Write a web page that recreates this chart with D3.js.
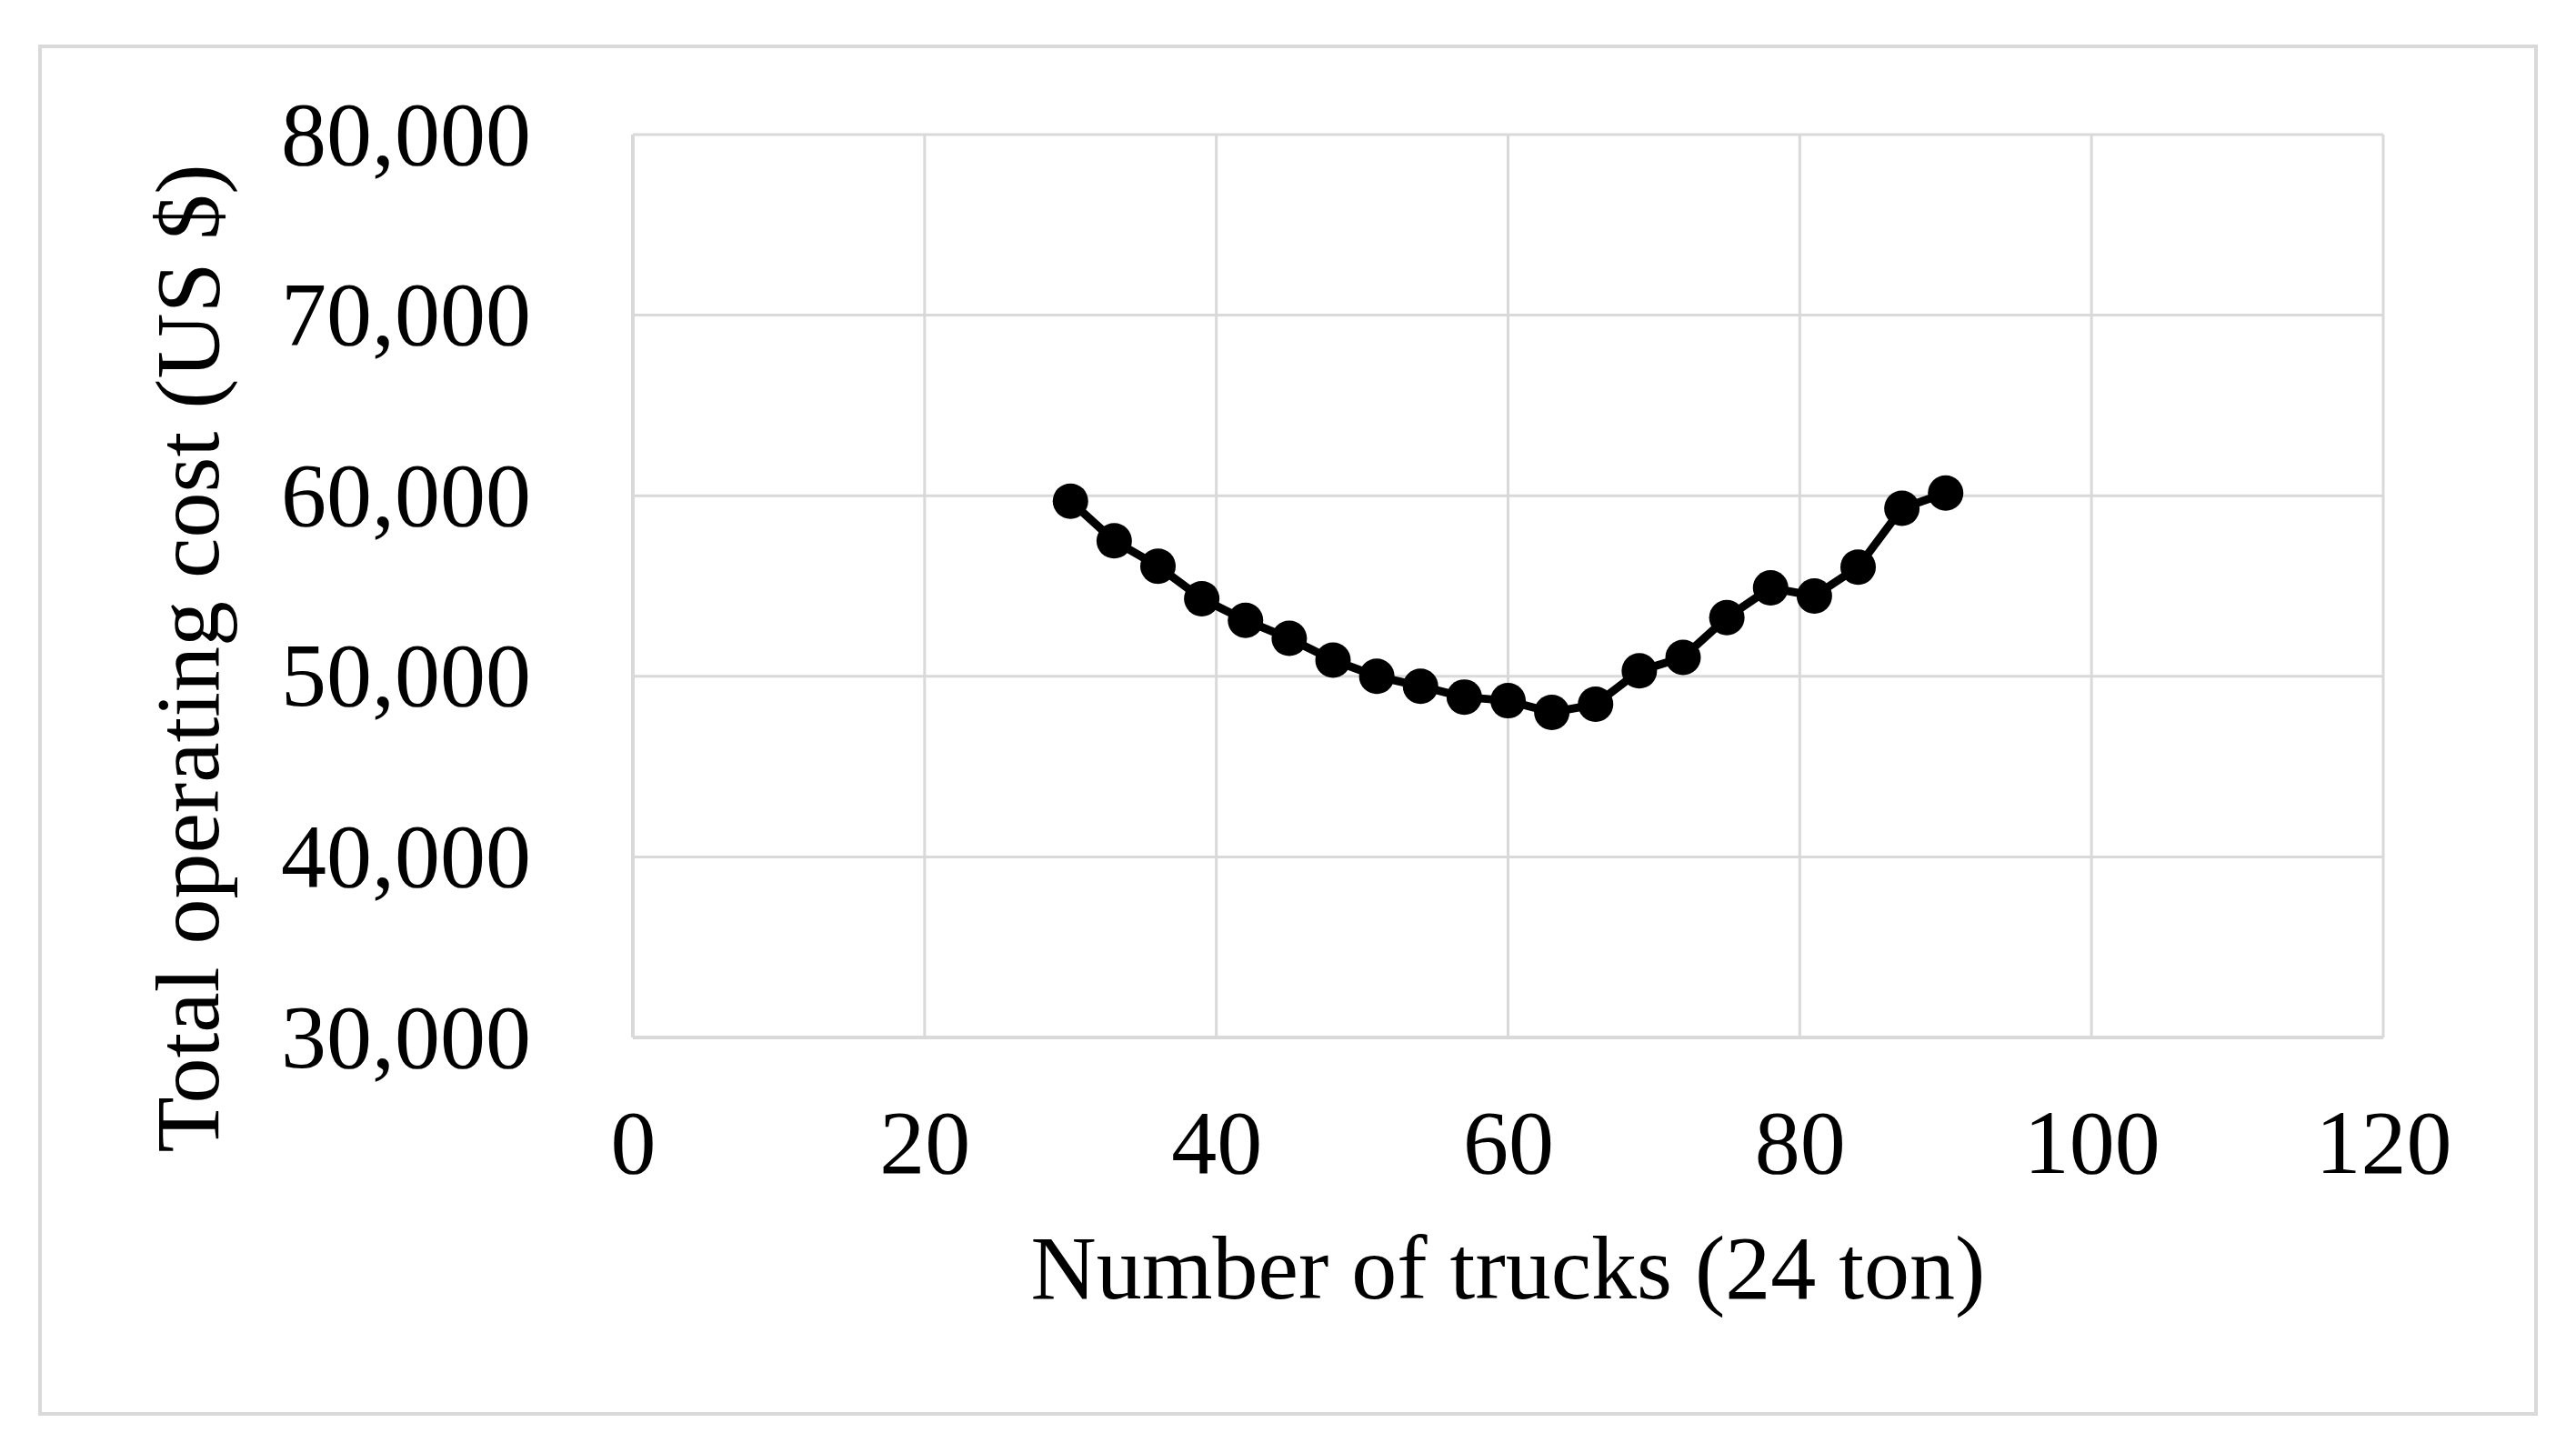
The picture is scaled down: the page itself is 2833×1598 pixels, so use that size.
<!DOCTYPE html>
<html>
<head>
<meta charset="utf-8">
<script src="https://cdn.jsdelivr.net/npm/d3@7"></script>
<style>
  body { margin: 0; background: #fff; }
  svg text { font-family: "Liberation Serif", "Times New Roman", serif; fill: #000; }
</style>
</head>
<body>
<div id="chart"></div>
<script>
// data
var trucks = [30, 33, 36, 39, 42, 45, 48, 51, 54, 57, 60, 63, 66, 69, 72, 75, 78, 81, 84, 87, 90];
var cost = [59700, 57500, 56100, 54300, 53100, 52100, 50900, 50000, 49450, 48850, 48650, 48000, 48450, 50300, 51050, 53250, 54900, 54450, 56050, 59300, 60150];
var xTicks = [0, 20, 40, 60, 80, 100, 120];
var yTicks = [30000, 40000, 50000, 60000, 70000, 80000];

var W = 2833, H = 1598;
var margin = {top: 148, right: 212, bottom: 457, left: 696};
var width = W - margin.left - margin.right,
    height = H - margin.top - margin.bottom;

var svg = d3.select("#chart").append("svg")
    .attr("width", W)
    .attr("height", H);

// outer chart frame
svg.append("rect")
    .attr("x", 44).attr("y", 51)
    .attr("width", 2745).attr("height", 1504)
    .attr("fill", "none")
    .attr("stroke", "#d9d9d9")
    .attr("stroke-width", 4);

var g = svg.append("g")
    .attr("transform", "translate(" + margin.left + "," + margin.top + ")");

var x = d3.scaleLinear().domain([0, 120]).range([0, width]);
var y = d3.scaleLinear().domain([30000, 80000]).range([height, 0]);

// gridlines
g.append("g")
    .attr("class", "grid")
    .selectAll("line.gy")
    .data(yTicks)
    .enter().append("line")
    .attr("x1", 0).attr("x2", width)
    .attr("y1", function(d) { return y(d); })
    .attr("y2", function(d) { return y(d); })
    .attr("stroke", "#d9d9d9")
    .attr("stroke-width", function(d) { return d === 30000 ? 4 : 3; });

g.append("g")
    .selectAll("line.gx")
    .data(xTicks)
    .enter().append("line")
    .attr("y1", 0).attr("y2", height)
    .attr("x1", function(d) { return x(d); })
    .attr("x2", function(d) { return x(d); })
    .attr("stroke", "#d9d9d9")
    .attr("stroke-width", function(d) { return d === 0 ? 4 : 3; });

// axes (labels only)
var fmt = d3.format(",");
var yAxis = g.append("g")
    .call(d3.axisLeft(y).tickValues(yTicks).tickFormat(fmt).tickSize(0).tickPadding(112));
yAxis.select(".domain").remove();
yAxis.selectAll("text")
    .attr("font-family", "Liberation Serif")
    .attr("font-size", 100)
    .attr("fill", "#000")
    .attr("dy", "0.32em");

var xAxis = g.append("g")
    .attr("transform", "translate(0," + height + ")")
    .call(d3.axisBottom(x).tickValues(xTicks).tickSize(0).tickPadding(78));
xAxis.select(".domain").remove();
xAxis.selectAll("text")
    .attr("font-family", "Liberation Serif")
    .attr("font-size", 100)
    .attr("fill", "#000");

// line + markers
var line = d3.line()
    .x(function(d, i) { return x(trucks[i]); })
    .y(function(d) { return y(d); });

g.append("path")
    .datum(cost)
    .attr("d", line)
    .attr("fill", "none")
    .attr("stroke", "#000")
    .attr("stroke-width", 9)
    .attr("stroke-linejoin", "round");

g.selectAll("circle.pt")
    .data(cost)
    .enter().append("circle")
    .attr("class", "pt")
    .attr("cx", function(d, i) { return x(trucks[i]); })
    .attr("cy", function(d) { return y(d); })
    .attr("r", 19.5)
    .attr("fill", "#000");

// axis titles
svg.append("text")
    .attr("x", margin.left + width / 2)
    .attr("y", 1428)
    .attr("text-anchor", "middle")
    .attr("font-size", 100)
    .text("Number of trucks (24 ton)");

svg.append("text")
    .attr("transform", "translate(240,724) rotate(-90)")
    .attr("text-anchor", "middle")
    .attr("font-size", 100)
    .text("Total operating cost (US $)");
</script>
</body>
</html>
